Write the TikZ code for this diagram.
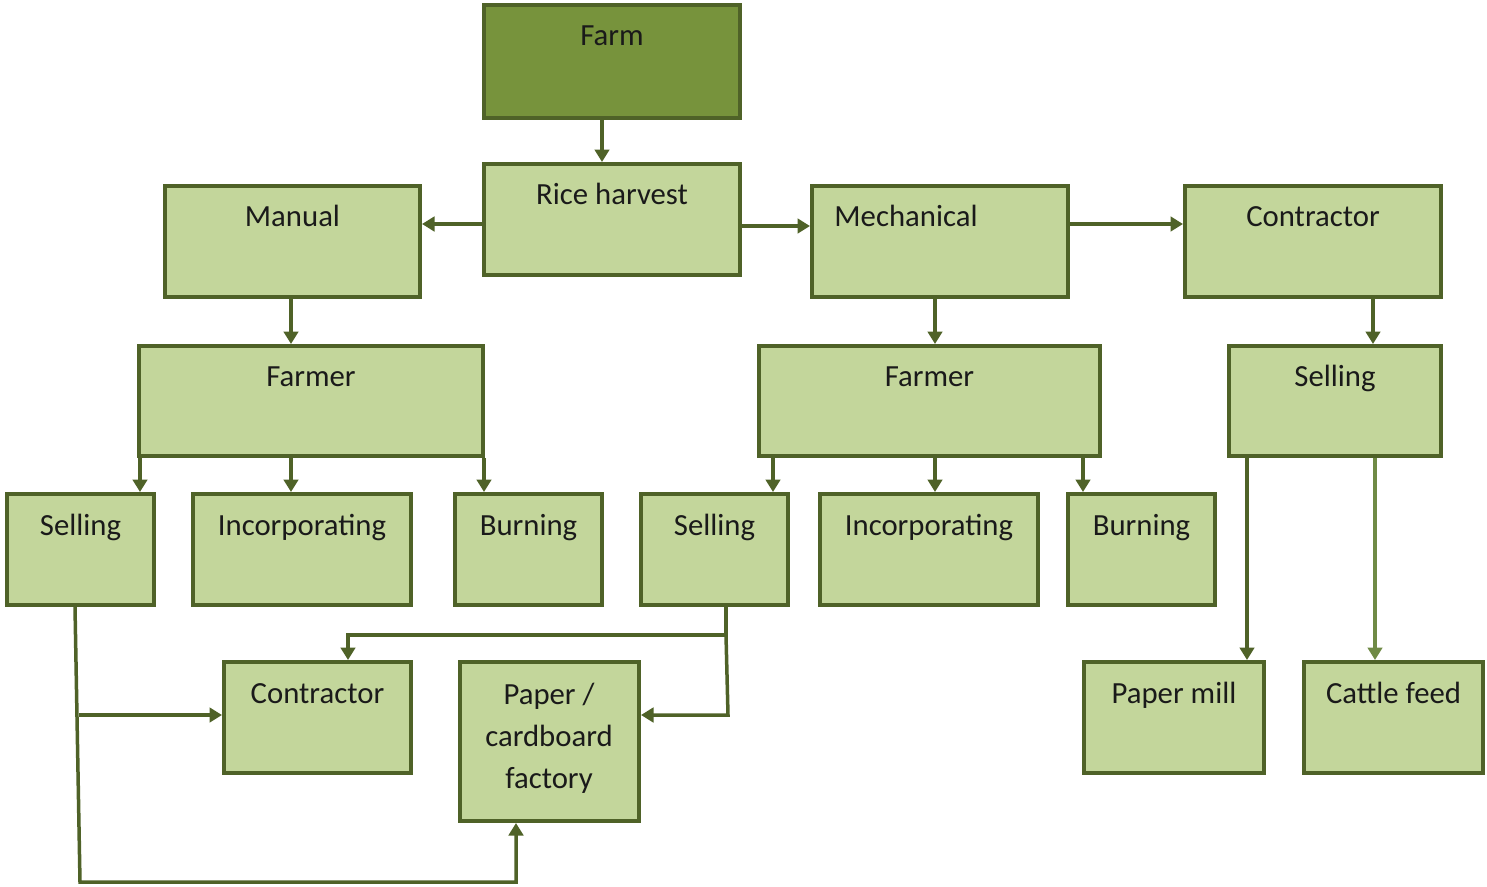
\documentclass[tikz,border=0pt]{standalone}
\usepackage{fontspec}
\setmainfont{Carlito}
\usetikzlibrary{arrows.meta}
\definecolor{bord}{HTML}{4F6228}
\definecolor{lite}{HTML}{C3D69B}
\definecolor{dark}{HTML}{77933C}
\definecolor{txt}{HTML}{1A1A1A}
\definecolor{arrlite}{HTML}{6F8A45}
\newcommand\mybox[8]{\node[#7, minimum width={(#4-#2-4)*0.02cm}, minimum height={(#5-#3-4)*0.02cm}, label={[name=#1-t, lbl, #8]north:#6}] (#1) at ({(#2+#4)/2},{(#3+#5)/2}) {};}
\tikzset{
  box/.style={draw=bord, line width=0.08cm, fill=lite, inner sep=0pt},
  darkbox/.style={box, fill=dark},
  lbl/.style={anchor=base, yshift=-0.86cm, text=txt, font=\fontsize{17.5}{24}\selectfont, inner sep=0pt},
  arr/.style={draw=bord, line width=0.07cm, line join=miter, -{Triangle[length=0.25cm,width=0.29cm]}}
}
\begin{document}
\begin{tikzpicture}[x=0.02cm, y=-0.02cm]
\useasboundingbox (0,0) rectangle (1487,886);
\mybox{farm}{482}{3}{742}{120}{Farm}{darkbox}{}
\mybox{rice}{482}{162}{742}{277}{Rice harvest}{box}{}
\mybox{manual}{163}{184}{422}{299}{Manual}{box}{}
\mybox{mech}{810}{184}{1070}{299}{Mechanical}{box}{xshift=-0.68cm}
\mybox{contrT}{1183}{184}{1443}{299}{Contractor}{box}{}
\mybox{farmerL}{137}{344}{485}{458}{Farmer}{box}{}
\mybox{farmerM}{757}{344}{1102}{458}{Farmer}{box}{}
\mybox{sellR}{1227}{344}{1443}{458}{Selling}{box}{}
\mybox{sellL}{5}{492}{156}{607}{Selling}{box}{}
\mybox{incL}{191}{492}{413}{607}{Incorporating}{box}{}
\mybox{burnL}{453}{492}{604}{607}{Burning}{box}{}
\mybox{sellM}{639}{492}{790}{607}{Selling}{box}{}
\mybox{incM}{818}{492}{1040}{607}{Incorporating}{box}{}
\mybox{burnM}{1066}{492}{1217}{607}{Burning}{box}{}
\mybox{contrB}{222}{660}{413}{775}{Contractor}{box}{}
\mybox{pmill}{1082}{660}{1266}{775}{Paper mill}{box}{}
\mybox{cattle}{1302}{660}{1485}{775}{Cattle feed}{box}{}
\node[box, minimum width={(641-458-4)*0.02cm}, minimum height={(823-660-4)*0.02cm}] (paper) at ({(458+641)/2},{(660+823)/2}) {};
\node[text=txt, font=\fontsize{17.5}{24}\selectfont, align=center, inner sep=0pt] (paper-t) at (549,738) {Paper /\\cardboard\\factory};
% connectors
\draw[arr] (farm.south -| 602,0) -- (rice.north -| 602,0);
\draw[arr] (rice.west |- 0,224) -- (manual.east |- 0,224);
\draw[arr] (rice.east |- 0,226) -- (mech.west |- 0,226);
\draw[arr] (mech.east |- 0,224) -- (contrT.west |- 0,224);
\draw[arr] (manual.south -| 291,0) -- (farmerL.north -| 291,0);
\draw[arr] (mech.south -| 935,0) -- (farmerM.north -| 935,0);
\draw[arr] (contrT.south -| 1373,0) -- (sellR.north -| 1373,0);
\draw[arr] (farmerL.south -| 140,0) -- (sellL.north -| 140,0);
\draw[arr] (farmerL.south -| 291,0) -- (incL.north -| 291,0);
\draw[arr] (farmerL.south -| 484,0) -- (burnL.north -| 484,0);
\draw[arr] (farmerM.south -| 773,0) -- (sellM.north -| 773,0);
\draw[arr] (farmerM.south -| 935,0) -- (incM.north -| 935,0);
\draw[arr] (farmerM.south -| 1083,0) -- (burnM.north -| 1083,0);
\draw[arr] (sellR.south -| 1247,0) -- (pmill.north -| 1247,0);
\draw[arr, draw=arrlite] (sellR.south -| 1375,0) -- (cattle.north -| 1375,0);
\coordinate (j1) at (79,715);
\coordinate (j2) at (726,635);
\draw[arr] (sellL.south -| 75,0) -- (80,882) -- (516,882) -- (paper.south -| 516,0);
\draw[arr] (j1) -- (contrB.west |- j1);
\draw[arr] (sellM.south -| 726,0) -- (j2) -| (contrB.north -| 348,0);
\draw[arr] (j2) -- (728,715) -- (paper.east |- 0,715);
\end{tikzpicture}
\end{document}
